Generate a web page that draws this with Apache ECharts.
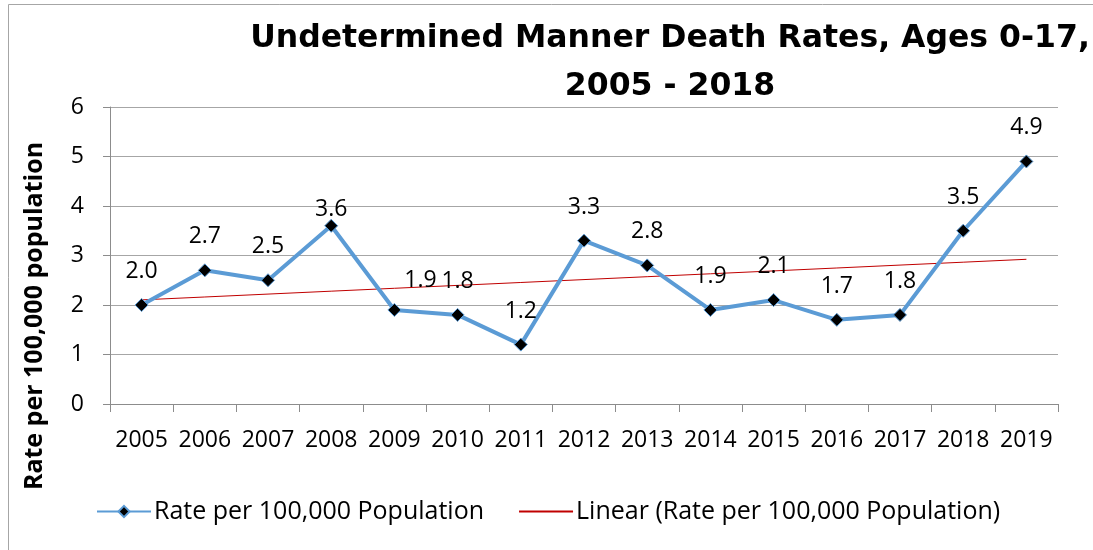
<!DOCTYPE html>
<html>
<head>
<meta charset="utf-8">
<script src="https://cdn.jsdelivr.net/npm/echarts@6/dist/echarts.min.js"></script>
<style>
  html, body { margin: 0; padding: 0; background: #fff; }
  #chart { width: 1093px; height: 550px; }
</style>
</head>
<body>
<div id="chart"></div>
<script>
// Undetermined manner death rates per 100,000 children, by year
const years = ['2005','2006','2007','2008','2009','2010','2011','2012','2013','2014','2015','2016','2017','2018','2019'];
const rates = [2.0, 2.7, 2.5, 3.6, 1.9, 1.8, 1.2, 3.3, 2.8, 1.9, 2.1, 1.7, 1.8, 3.5, 4.9];
const yTicks = [0, 1, 2, 3, 4, 5, 6];

const seriesName = 'Rate per 100,000 Population';
const trendName = 'Linear (Rate per 100,000 Population)';

// least-squares linear trend over the yearly rates
function linearTrend(vals) {
  const n = vals.length;
  const mx = (n - 1) / 2;
  const my = vals.reduce((a, b) => a + b, 0) / n;
  let sxy = 0, sxx = 0;
  vals.forEach((v, i) => { sxy += (i - mx) * (v - my); sxx += (i - mx) * (i - mx); });
  const slope = sxy / sxx;
  return vals.map((_, i) => my + slope * (i - mx));
}
const trend = linearTrend(rates);

// a couple of labels were hand-placed: 2008 sits lower, 2009 is pushed right
const labelNudges = { '2008': [0, 17], '2009': [26, 4] };
const rateItems = rates.map((v, i) => (
  labelNudges[years[i]] ? { value: v, label: { offset: labelNudges[years[i]] } } : { value: v }
));

const FONT = '"Open Sans", Lato, sans-serif';
const TITLE_FONT = '"DejaVu Sans", "Open Sans", sans-serif';
const chart = echarts.init(document.getElementById('chart'), null, { renderer: 'canvas' });

chart.setOption({
  animation: false,
  backgroundColor: '#ffffff',
  textStyle: { fontFamily: FONT, color: '#000' },
  title: {
    text: 'Undetermined Manner Death Rates, Ages 0-17,\n2005 - 2018',
    left: 665,
    top: 10,
    textAlign: 'center',
    textStyle: { fontFamily: TITLE_FONT, fontSize: 31.5, fontWeight: 'bold', color: '#000', lineHeight: 48, align: 'center' }
  },
  graphic: [
    {
      type: 'rect',
      shape: { x: 8.5, y: 4.5, width: 1200, height: 700 },
      style: { fill: 'none', stroke: '#a6a6a6', lineWidth: 1 },
      silent: true,
      z: -1
    },
    {
      type: 'text',
      x: 35,
      y: 316,
      rotation: Math.PI / 2,
      style: {
        text: 'Rate per 100,000 population',
        fontFamily: FONT,
        fontSize: 25,
        fontWeight: 'bold',
        fill: '#000',
        align: 'center',
        verticalAlign: 'middle'
      }
    }
  ],
  legend: {
    top: 494,
    left: 91,
    itemWidth: 54,
    itemHeight: 14,
    itemGap: 34,
    textStyle: { fontFamily: FONT, fontSize: 25, color: '#000', padding: [0, 0, 0, -2] },
    data: [
      { name: seriesName },
      { name: trendName, itemStyle: { opacity: 0 } }
    ]
  },
  grid: { left: 110, right: 35, top: 107, bottom: 146 },
  xAxis: {
    type: 'category',
    data: years,
    boundaryGap: true,
    axisLine: { lineStyle: { color: '#8c8c8c', width: 1 } },
    axisTick: { show: true, length: 8, lineStyle: { color: '#8c8c8c' } },
    axisLabel: { fontFamily: FONT, fontSize: 23, color: '#000', margin: 25, interval: 0 }
  },
  yAxis: {
    type: 'value',
    min: yTicks[0],
    max: yTicks[yTicks.length - 1],
    interval: 1,
    axisLine: { show: true, lineStyle: { color: '#8c8c8c', width: 1 } },
    axisTick: { show: true, length: 7, lineStyle: { color: '#8c8c8c' } },
    axisLabel: { fontFamily: FONT, fontSize: 23, color: '#000', margin: 26 },
    splitLine: { show: true, lineStyle: { color: '#a6a6a6', width: 1 } }
  },
  series: [
    {
      name: seriesName,
      type: 'line',
      data: rateItems,
      symbol: 'diamond',
      symbolSize: 13,
      lineStyle: { color: '#5b9bd5', width: 4 },
      itemStyle: { color: '#000', borderColor: '#5b9bd5', borderWidth: 1 },
      label: {
        show: true,
        position: 'top',
        distance: 15,
        fontFamily: FONT,
        fontSize: 23,
        color: '#000',
        formatter: p => Number(p.value).toFixed(1)
      },
      z: 3
    },
    {
      name: trendName,
      type: 'line',
      data: trend,
      symbol: 'none',
      lineStyle: { color: '#c00000', width: 1 },
      itemStyle: { color: '#c00000', opacity: 0 },
      z: 2
    }
  ]
});
</script>
</body>
</html>
